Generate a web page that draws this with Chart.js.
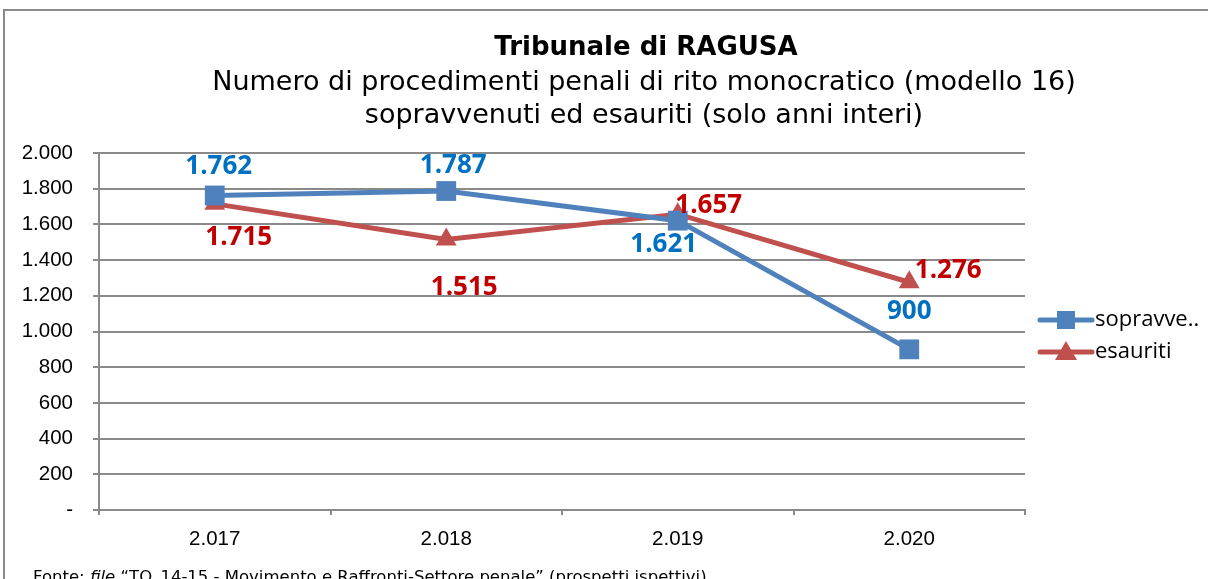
<!DOCTYPE html>
<html><head><meta charset="utf-8">
<script src="https://cdn.jsdelivr.net/npm/chart.js@4/dist/chart.umd.min.js"></script>
<style>html,body{margin:0;padding:0;background:#fff;}#wrap{width:1208px;height:579px;position:relative;}</style>
</head><body><div id="wrap"><canvas id="c" width="1208" height="579"></canvas></div>
<script>
const categories = ['2.017', '2.018', '2.019', '2.020'];
const sopravvenuti = [1762, 1787, 1621, 900];
const esauriti = [1715, 1515, 1657, 1276];
const seriesNames = ['sopravvenuti', 'esauriti'];
const legendLabels = ['sopravve..', 'esauriti'];
const titleText = 'Tribunale di RAGUSA';
const subtitleLines = ['Numero di procedimenti penali di rito monocratico (modello 16)', 'sopravvenuti ed esauriti (solo anni interi)'];
const footerParts = ['Fonte: ', 'file', ' \u201cTO_14-15 - Movimento e Raffronti-Settore penale\u201d (prospetti ispettivi)'];

function fmt(n){
  if (n === 0) return '-';
  if (n >= 1000) { const r = n % 1000; return Math.floor(n/1000) + '.' + String(r).padStart(3,'0'); }
  return String(n);
}
// label offsets (style): [dx, dy] relative to point
const labelOffsets = [
  [[4,-29],[7,-25],[-14,24],[0,-38]],
  [[24,34],[18,48],[31,-9],[39,-12]]
];
const labelColors = ['#0070C0', '#C00000'];
const LBL_FONT = 'bold 26px "Open Sans", sans-serif';

const deco = {
  id: 'deco',
  beforeDraw(chart){
    const ctx = chart.ctx;
    ctx.save();
    ctx.strokeStyle = '#8a8a8a'; ctx.lineWidth = 2;
    ctx.strokeRect(4, 10, 1400, 800);
    ctx.restore();
  },
  afterDatasetsDraw(chart){
    const ctx = chart.ctx;
    ctx.save();
    ctx.textAlign = 'center'; ctx.textBaseline = 'middle';
    ctx.fillStyle = '#000';
    ctx.font = 'bold 26px "DejaVu Sans", Verdana, sans-serif';
    ctx.fillText(titleText, 646, 48);
    ctx.font = '27px "DejaVu Sans", Verdana, sans-serif';
    ctx.fillText(subtitleLines[0], 644, 83);
    ctx.fillText(subtitleLines[1], 644, 116);
    // data labels
    ctx.font = LBL_FONT;
    chart.data.datasets.forEach((ds, di) => {
      const meta = chart.getDatasetMeta(di);
      meta.data.forEach((pt, i) => {
        const o = labelOffsets[di][i];
        ctx.fillStyle = labelColors[di];
        ctx.fillText(fmt(ds.data[i]), pt.x + o[0], pt.y + o[1]);
      });
    });
    // legend
    const items = [[320, '#4F81BD', 'rect'], [352, '#C0504D', 'tri']];
    items.forEach((it, k) => {
      const y = it[0];
      ctx.strokeStyle = it[1]; ctx.lineWidth = 5; ctx.lineCap = 'round';
      ctx.beginPath(); ctx.moveTo(1040, y); ctx.lineTo(1092, y); ctx.stroke();
      ctx.fillStyle = it[1];
      if (it[2] === 'rect') ctx.fillRect(1057, y-9, 18, 18);
      else { ctx.beginPath(); ctx.moveTo(1066, y-11); ctx.lineTo(1077, y+8); ctx.lineTo(1055, y+8); ctx.closePath(); ctx.fill(); }
      ctx.fillStyle = '#000'; ctx.textAlign = 'left';
      ctx.font = '22px "Open Sans", "Liberation Sans", sans-serif';
      ctx.fillText(legendLabels[k], 1095, y);
    });
    // footer
    const F = '16.5px "DejaVu Sans", Verdana, sans-serif';
    ctx.font = F;
    ctx.textAlign = 'left'; ctx.textBaseline = 'alphabetic';
    let x = 33; const fy = 582;
    ctx.fillStyle = '#000';
    ctx.fillText(footerParts[0], x, fy); x += ctx.measureText(footerParts[0]).width;
    ctx.font = 'italic ' + F;
    ctx.fillText(footerParts[1], x, fy); x += ctx.measureText(footerParts[1]).width;
    ctx.font = F;
    ctx.fillText(footerParts[2], x, fy);
    ctx.restore();
  }
};

new Chart(document.getElementById('c'), {
  type: 'line',
  data: {
    labels: categories,
    datasets: [
      { label: seriesNames[0], data: sopravvenuti, borderColor: '#4F81BD', backgroundColor: '#4F81BD', borderWidth: 5,
        pointStyle: 'rect', pointRadius: 14, pointBorderWidth: 0, tension: 0 },
      { label: seriesNames[1], data: esauriti, borderColor: '#C0504D', backgroundColor: '#C0504D', borderWidth: 5,
        pointStyle: 'triangle', pointRadius: 12, pointBorderWidth: 0, tension: 0 }
    ]
  },
  options: {
    responsive: false, animation: false, devicePixelRatio: 1,
    layout: { padding: { top: 153, left: 0, right: 183, bottom: 0 } },
    plugins: { legend: { display: false }, title: { display: false }, tooltip: { enabled: false } },
    scales: {
      x: {
        offset: true,
        afterFit(s){ s.height = 69; },
        grid: { drawOnChartArea: false, drawTicks: true, tickLength: 5, color: '#8a8a8a', lineWidth: 2, offset: true },
        border: { display: true, color: '#8a8a8a', width: 2 },
        ticks: { color: '#000', padding: 12, font: { family: '"Liberation Sans", Arial, sans-serif', size: 20.5 } }
      },
      y: {
        min: 0, max: 2000,
        afterFit(s){ s.width = 99; },
        afterBuildTicks(s){ const t=[]; for (let v=0; v<=2000; v+=200) t.push({value:v}); s.ticks = t; },
        grid: { color: '#8a8a8a', lineWidth: 2, tickLength: 6, drawTicks: true },
        border: { display: true, color: '#8a8a8a', width: 2 },
        ticks: { color: '#000', padding: 20, callback: (v) => fmt(v), font: { family: '"Liberation Sans", Arial, sans-serif', size: 20.5 } }
      }
    }
  },
  plugins: [deco]
});
</script></body></html>
